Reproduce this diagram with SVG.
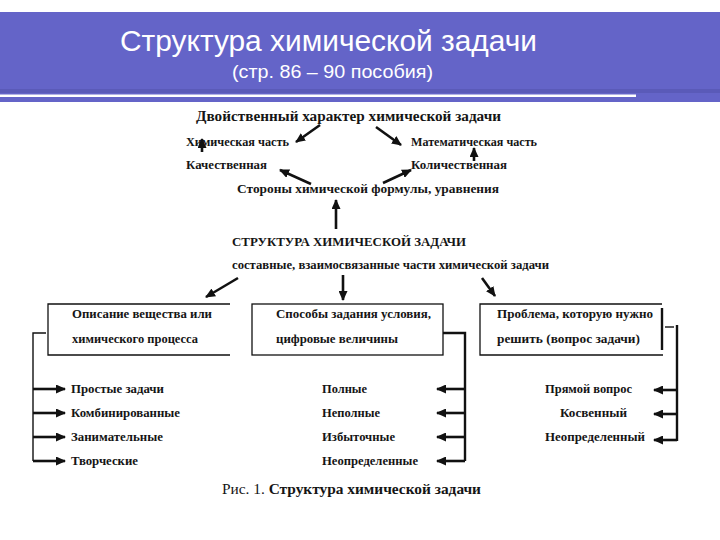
<svg xmlns="http://www.w3.org/2000/svg" width="720" height="540" viewBox="0 0 720 540">
<style>
.t{font-family:"Liberation Serif","DejaVu Serif",serif;font-weight:bold;fill:#151515;font-size:12.5px}
.big{font-size:15.5px}
.hd{font-family:"Liberation Sans",Arial,sans-serif;fill:#ffffff}
.box{fill:none;stroke:#111;stroke-width:1.3}
.ln{fill:none;stroke:#111;stroke-width:1.4}
.ar{fill:none;stroke:#111;stroke-width:2.6;marker-end:url(#ah)}
.br{fill:none;stroke:#111;stroke-width:2.4}
</style>
<defs>
<marker id="ah" markerUnits="userSpaceOnUse" markerWidth="10" markerHeight="9" refX="9" refY="4.5" orient="auto">
<path d="M0,0 L10,4.5 L0,9 z" fill="#111"/>
</marker>
</defs>
<rect width="720" height="540" fill="#ffffff"/>
<g id="header">
<rect x="0" y="12" width="720" height="90" fill="#6464c8"/>
<rect x="0" y="89" width="720" height="4" fill="#5a5ab8"/>
<rect x="0" y="94.5" width="636" height="2.5" fill="#ffffff"/>
<text class="hd" x="120" y="51" font-size="30" textLength="417" lengthAdjust="spacingAndGlyphs">Структура химической задачи</text>
<text class="hd" x="232" y="78" font-size="19" textLength="201" lengthAdjust="spacingAndGlyphs">(стр. 86 – 90 пособия)</text>
</g>
<g id="n-dual"><text class="t big" x="196" y="121" textLength="305" lengthAdjust="spacingAndGlyphs">Двойственный характер химической задачи</text></g>
<g id="n-chem"><text class="t" x="186" y="146" textLength="103" lengthAdjust="spacingAndGlyphs">Химическая часть</text></g>
<g id="n-math"><text class="t" x="411" y="146" textLength="126" lengthAdjust="spacingAndGlyphs">Математическая часть</text></g>
<g id="n-qual"><text class="t" x="186" y="169" textLength="81" lengthAdjust="spacingAndGlyphs">Качественная</text></g>
<g id="n-quant"><text class="t" x="411" y="169" textLength="96" lengthAdjust="spacingAndGlyphs">Количественная</text></g>
<g id="n-sides"><text class="t" x="237" y="193" textLength="262" lengthAdjust="spacingAndGlyphs">Стороны химической формулы, уравнения</text></g>
<g id="n-struct">
<text class="t" x="232" y="246" textLength="234" lengthAdjust="spacingAndGlyphs">СТРУКТУРА ХИМИЧЕСКОЙ ЗАДАЧИ</text>
<text class="t" x="232" y="269" textLength="317" lengthAdjust="spacingAndGlyphs">составные, взаимосвязанные части химической задачи</text>
</g>
<g id="n-box1">
<path class="box" d="M230,304 H48 V355 H230"/>
<text class="t" x="72" y="318" textLength="140" lengthAdjust="spacingAndGlyphs">Описание вещества или</text>
<text class="t" x="72" y="343" textLength="126" lengthAdjust="spacingAndGlyphs">химического процесса</text>
</g>
<g id="n-box2">
<rect class="box" x="252" y="304" width="191" height="51"/>
<text class="t" x="276" y="318" textLength="155" lengthAdjust="spacingAndGlyphs">Способы задания условия,</text>
<text class="t" x="276" y="343" textLength="122" lengthAdjust="spacingAndGlyphs">цифровые величины</text>
</g>
<g id="n-box3">
<path class="box" d="M662,304 H480 V355 H663"/>
<line x1="662" y1="308" x2="662" y2="350" stroke="#111" stroke-width="2.4"/>
<text class="t" x="497" y="318" textLength="156" lengthAdjust="spacingAndGlyphs">Проблема, которую нужно</text>
<text class="t" x="497" y="343" textLength="143" lengthAdjust="spacingAndGlyphs">решить (вопрос задачи)</text>
</g>
<g id="n-list1">
<text class="t" x="71" y="393" textLength="93" lengthAdjust="spacingAndGlyphs">Простые задачи</text>
<text class="t" x="71" y="417" textLength="109" lengthAdjust="spacingAndGlyphs">Комбинированные</text>
<text class="t" x="71" y="441" textLength="92" lengthAdjust="spacingAndGlyphs">Занимательные</text>
<text class="t" x="71" y="465" textLength="67" lengthAdjust="spacingAndGlyphs">Творческие</text>
</g>
<g id="n-list2">
<text class="t" x="322" y="393" textLength="45" lengthAdjust="spacingAndGlyphs">Полные</text>
<text class="t" x="322" y="417" textLength="58" lengthAdjust="spacingAndGlyphs">Неполные</text>
<text class="t" x="322" y="441" textLength="73" lengthAdjust="spacingAndGlyphs">Избыточные</text>
<text class="t" x="322" y="465" textLength="96" lengthAdjust="spacingAndGlyphs">Неопределенные</text>
</g>
<g id="n-list3">
<text class="t" x="545" y="393" textLength="87" lengthAdjust="spacingAndGlyphs">Прямой вопрос</text>
<text class="t" x="560" y="417" textLength="67" lengthAdjust="spacingAndGlyphs">Косвенный</text>
<text class="t" x="545" y="441" textLength="100" lengthAdjust="spacingAndGlyphs">Неопределенный</text>
</g>
<g id="caption">
<text class="t big" x="222" y="494" textLength="259" lengthAdjust="spacingAndGlyphs"><tspan font-weight="normal">Рис. 1. </tspan>Структура химической задачи</text>
</g>
<g id="connectors">
<line class="ar" x1="320" y1="125" x2="296" y2="142"/>
<line class="ar" x1="376" y1="127" x2="401" y2="145"/>
<line class="ar" x1="202" y1="152" x2="202" y2="139"/>
<line class="ar" x1="474" y1="161" x2="474" y2="148"/>
<line class="ar" x1="311" y1="184" x2="280" y2="170"/>
<line class="ar" x1="383" y1="183" x2="411" y2="170"/>
<line class="ar" x1="336" y1="229" x2="336" y2="200"/>
<line class="ar" x1="238" y1="278" x2="206" y2="297"/>
<line class="ar" x1="343" y1="275" x2="343" y2="300"/>
<line class="ar" x1="482" y1="278" x2="495" y2="296"/>
<path class="ln" d="M46,333 H33 V461"/>
<line class="ar" x1="33" y1="389" x2="65" y2="389"/>
<line class="ar" x1="33" y1="413" x2="65" y2="413"/>
<line class="ar" x1="33" y1="437" x2="65" y2="437"/>
<line class="ar" x1="33" y1="461" x2="65" y2="461"/>
<path class="br" d="M443,333 H465 V461"/>
<line class="ar" x1="465" y1="389" x2="437" y2="389"/>
<line class="ar" x1="465" y1="413" x2="437" y2="413"/>
<line class="ar" x1="465" y1="437" x2="437" y2="437"/>
<line class="ar" x1="465" y1="461" x2="437" y2="461"/>
<line class="ln" x1="665" y1="327" x2="674" y2="327" stroke-width="2"/>
<path class="br" d="M677,325 V441"/>
<line class="ar" x1="677" y1="390" x2="654" y2="390"/>
<line class="ar" x1="677" y1="414" x2="654" y2="414"/>
<line class="ar" x1="677" y1="440" x2="654" y2="440"/>
</g>
</svg>
